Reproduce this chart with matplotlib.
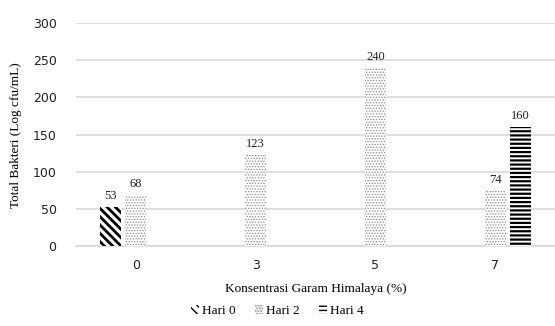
import numpy as np
import matplotlib
matplotlib.use("Agg")
from matplotlib import pyplot as plt

categories = ["0", "3", "5", "7"]
hari0 = [53, 0, 0, 0]
hari2 = [68, 123, 240, 74]
hari4 = [0, 0, 0, 160]
series_names = ["Hari 0", "Hari 2", "Hari 4"]

serif = ['Liberation Serif', 'DejaVu Serif']

fig = plt.figure(figsize=(5.55, 3.26), dpi=100)
ax = fig.add_axes([0.137, 0.245, 0.863, 0.684])

x = np.arange(len(categories))
w = 0.175
off = 0.21
styles = [
    (dict(hatch='\\\\\\\\', edgecolor='black'), 2.0),
    (dict(hatch='......', edgecolor='#8c8c8c'), 0.6),
    (dict(hatch='----', edgecolor='black'), 1.6),
]
for i, (vals, name, (st, hlw)) in enumerate(zip([hari0, hari2, hari4], series_names, styles)):
    with plt.rc_context({'hatch.linewidth': hlw}):
        bars = ax.bar(x + (i - 1) * off, vals, w, facecolor='white', linewidth=0,
                      label=name, zorder=3, **st)
    for b, v in zip(bars, vals):
        if v > 0:
            ax.text(b.get_x() + b.get_width() / 2, v + 7, str(v), ha='center',
                    va='bottom', fontsize=9, family=serif, color='#222222')

ax.set_xlim(-0.5, 3.5)
ax.set_ylim(0, 300)
ax.set_yticks(range(0, 301, 50))
ax.set_xticks(x)
ax.set_xticklabels(categories)
ax.grid(axis='y', color='#d9d9d9', linewidth=1.2, zorder=0)
for s in ['top', 'right', 'left']:
    ax.spines[s].set_visible(False)
ax.spines['bottom'].set_color('#d9d9d9')
ax.spines['bottom'].set_linewidth(1.2)
ax.tick_params(length=0, labelsize=9, colors='#222222')
ax.tick_params(axis='y', pad=14)
ax.tick_params(axis='x', pad=9)

ax.set_ylabel("Total Bakteri (Log cfu/mL)", family=serif, fontsize=9.5, labelpad=8)
ax.set_xlabel("Konsentrasi Garam Himalaya (%)", family=serif, fontsize=9.5, labelpad=8)

fig.legend(loc='lower center', bbox_to_anchor=(0.5, -0.01), ncol=3, frameon=False,
           prop={'family': serif, 'size': 9.5}, handlelength=0.6, handleheight=0.7,
           columnspacing=1.5, handletextpad=0.2)

fig.savefig("out.png", dpi=100)
